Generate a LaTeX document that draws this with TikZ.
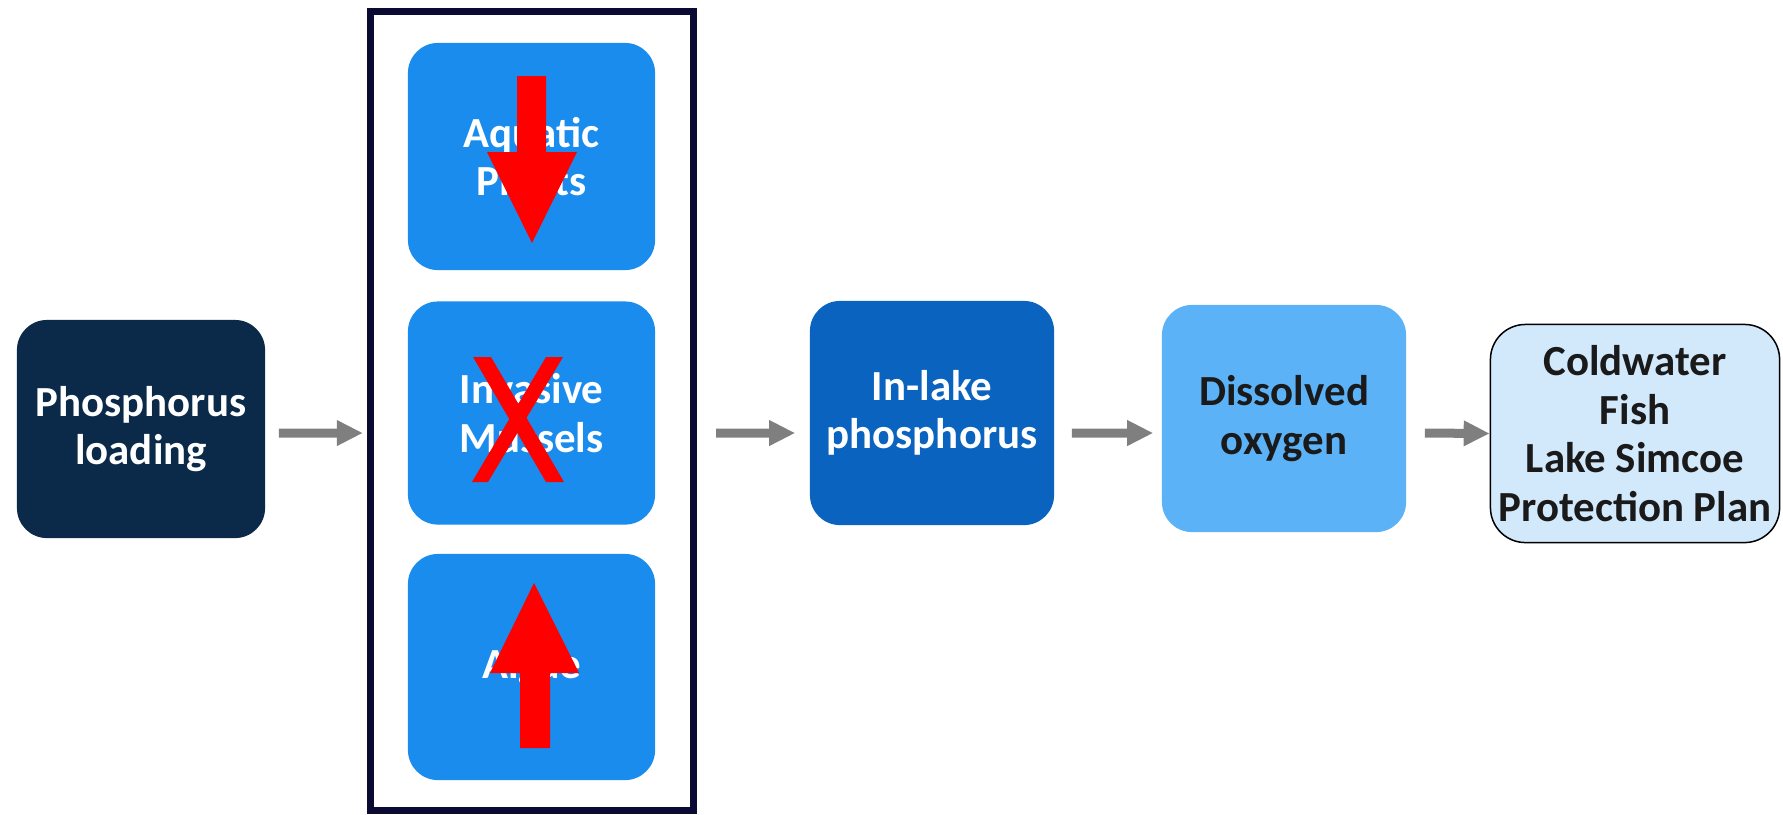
\documentclass[tikz,border=0pt]{standalone}
\usepackage{fontspec}
\setmainfont{Carlito}
\usepackage{tikz}
\usetikzlibrary{arrows.meta, positioning}
\definecolor{navybox}{HTML}{0B2A4A}
\definecolor{framenavy}{HTML}{0A0A33}
\definecolor{midblue}{HTML}{1A8CEE}
\definecolor{deepblue}{HTML}{0A63BE}
\definecolor{skyblue}{HTML}{5CB2F6}
\definecolor{paleblue}{HTML}{D2E8FB}
\definecolor{arrowgray}{HTML}{7F7F7F}
\definecolor{markred}{HTML}{FF0000}
\definecolor{darktext}{HTML}{1A1A1A}
\newcommand{\boxfont}{\fontsize{12.2}{13.8}\selectfont\bfseries}
\tikzset{
  box/.style={rounded corners=0.3cm, minimum width=2.46cm, minimum height=2.24cm,
    inner sep=0pt, align=center, font=\boxfont},
  flow/.style={-{Triangle[length=0.26cm,width=0.24cm]}, line width=0.09cm, draw=arrowgray},
  redmark/.style={fill=markred},
}

\begin{document}
\begin{tikzpicture}[x=0.01cm, y=-0.01cm]
\useasboundingbox (0,0) rectangle (1783,814);

\node[box, fill=navybox, text=white, minimum width=2.48cm, minimum height=2.18cm] (load) at (141,429)
     {Phosphorus\\loading};

% group of the three drivers
\node[draw=framenavy, line width=0.07cm, minimum width=3.23cm, minimum height=7.99cm] (grp) at (532,411) {};
\node[box, fill=midblue, text=white, minimum width=2.47cm, minimum height=2.27cm] (plants) at (531.5,156.5)
     {Aquatic\\Plants};
\node[box, fill=midblue, text=white, minimum width=2.47cm, minimum height=2.23cm] (mussels) at (531.5,413)
     {Invasive\\Mussels};
\node[box, fill=midblue, text=white, minimum width=2.47cm, minimum height=2.26cm] (algae) at (531.5,667)
     {Algae};

% red marks
\fill[redmark] (517,76) -- (546,76) -- (546,152) -- (577,152) -- (532,243) -- (487,152) -- (517,152) -- cycle;
\fill[redmark] (473,357) -- (491,357) -- (564,482) -- (546,482) -- cycle;
\fill[redmark] (546,357) -- (563,357) -- (488,482) -- (472,482) -- cycle;
\fill[redmark] (520,748) -- (550,748) -- (550,673) -- (579,673) -- (534,583) -- (490,673) -- (520,673) -- cycle;

\node[box, fill=deepblue, text=white, minimum width=2.44cm, minimum height=2.24cm] (inlake) at (932,413)
     {In-lake\\phosphorus};
\node[box, fill=skyblue, text=darktext, minimum width=2.44cm, minimum height=2.27cm] (dissolved) at (1284,418.5)
     {Dissolved\\oxygen};
\node[box, draw=black, line width=0.015cm, rounded corners=0.35cm, fill=paleblue, text=darktext,
      minimum width=2.89cm, minimum height=2.18cm] (cold) at (1635,433.5)
     {Coldwater\\Fish\\Lake Simcoe\\Protection Plan};

\draw[flow] ([xshift=0.13cm,yshift=-0.04cm]load.east) -- ([xshift=-0.04cm,yshift=-0.22cm]grp.west);
\draw[flow] ([xshift=0.19cm,yshift=-0.22cm]grp.east) -- ([xshift=-0.14cm,yshift=-0.20cm]inlake.west);
\draw[flow] ([xshift=0.17cm,yshift=-0.20cm]inlake.east) -- ([xshift=-0.08cm,yshift=-0.145cm]dissolved.west);
\draw[flow] ([xshift=0.18cm,yshift=-0.145cm]dissolved.east) -- (cold.west);
\end{tikzpicture}
\end{document}
